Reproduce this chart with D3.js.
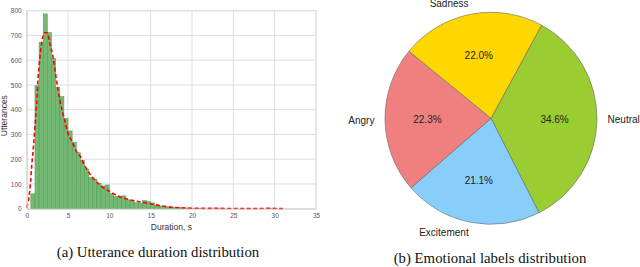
<!DOCTYPE html>
<html>
<head>
<meta charset="utf-8">
<script src="https://cdn.jsdelivr.net/npm/d3@7"></script>
<style>
  html, body { margin: 0; padding: 0; background: #fff; }
  svg { display: block; }
</style>
</head>
<body>
<svg id="chart" width="640" height="267"></svg>
<script>
// ---------- Data: histogram (bin start, seconds; bin width 0.5 s) ----------
const binStarts = [0.0,0.5,1.0,1.5,2.0,2.5,3.0,3.5,4.0,4.5,5.0,5.5,6.0,6.5,7.0,7.5,8.0,8.5,9.0,9.5,
  10.0,10.5,11.0,11.5,12.0,12.5,13.0,13.5,14.0,14.5,15.0,15.5,16.0,16.5,17.0,17.5,18.0,18.5,19.0,19.5,
  20.0,20.5,21.0,21.5,22.0,22.5,23.0,23.5,24.0,24.5,25.0,25.5,26.0,26.5,27.0,27.5,28.0,28.5,29.0,29.5];
const binCounts = [0,60,497,671,787,712,608,490,453,365,314,268,226,195,160,127,119,103,92,96,
  62,50,49,52,36,33,24,23,33,29,23,14,11,8,6,5,3,4,3,2,
  1,1,1,0,1,0,1,0,0,0,0,0,0,0,0,0,0,0,1,1];
const binWidth = 0.5;

// ---------- Data: fitted density curve (red dashed) ----------
const curveX = [0,0.2,0.4,0.6,0.8,1.0,1.2,1.4,1.6,1.8,2.0,2.2,2.5,2.8,3.2,3.6,4.0,4.5,5.0,5.5,6.0,6.5,7.0,7.5,8.0,
  9.0,10.0,11.0,12.0,13.0,14.0,15.0,16.0,17.0,18.0,19.0,20.0,22.0,24.0,26.0,28.0,29.0,29.5,30.0,31.0];
const curveY = [5,30,84,170,245,330,427,540,609,669,700,712,710,669,609,520,440,370,305,270,232,210,175,148,125,
  92,70,52,40,32,26,20,13,8,5,3,2,1.5,1,0.5,0.5,1.5,2,1,0.2];

// ---------- Axis ticks ----------
const xTicks = [0,5,10,15,20,25,30,35];
const yTicks = [0,100,200,300,400,500,600,700,800];

// ---------- Data: pie ----------
const pieLabels = ["Neutral","Excitement","Angry","Sadness"];
const pieValues = [34.6,21.1,22.3,22.0];
const pieColors = ["#9acd32","#87cefa","#f08080","#ffd700"];

// ---------- Captions ----------
const captionA = "(a) Utterance duration distribution";
const captionB = "(b) Emotional labels distribution";

const svg = d3.select("#chart");
const sans = "'Liberation Sans', Arial, Helvetica, sans-serif";
const serif = "'Liberation Serif', 'Times New Roman', Times, serif";

// ================= Histogram =================
const x = d3.scaleLinear().domain([0,35]).range([26.7,316]);
const y = d3.scaleLinear().domain([0,800]).range([208.7,10.7]);

const gH = svg.append("g");

// grid
gH.append("g").selectAll("line.v").data(xTicks).join("line")
  .attr("x1", d => x(d)).attr("x2", d => x(d))
  .attr("y1", y(800)).attr("y2", y(0))
  .attr("stroke", "#dedede").attr("stroke-width", 1);
gH.append("g").selectAll("line.h").data(yTicks).join("line")
  .attr("x1", x(0)).attr("x2", x(35))
  .attr("y1", d => y(d)).attr("y2", d => y(d))
  .attr("stroke", "#dedede").attr("stroke-width", 1);

// bars
const bins = binStarts.map((s,i) => ({s, c: binCounts[i]})).filter(d => d.c > 0);
gH.append("g").selectAll("rect").data(bins).join("rect")
  .attr("x", d => x(d.s))
  .attr("width", d => x(d.s + binWidth) - x(d.s))
  .attr("y", d => y(d.c))
  .attr("height", d => y(0) - y(d.c))
  .attr("fill", "#73b973")
  .attr("stroke", "#4f9a4f")
  .attr("stroke-width", 0.5);

// density curve
const line = d3.line().x((d,i) => x(curveX[i])).y(d => y(d)).curve(d3.curveMonotoneX);
gH.append("path").datum(curveY)
  .attr("d", line)
  .attr("fill", "none")
  .attr("stroke", "#ff0000")
  .attr("stroke-width", 1.6)
  .attr("stroke-dasharray", "4,2.5");

// axes via d3
const xAxis = d3.axisBottom(x).tickValues(xTicks).tickSize(0).tickPadding(5);
const gx = gH.append("g").attr("transform", `translate(0,${y(0)})`).call(xAxis);
gx.select(".domain").attr("stroke", "#cfcfcf");
gx.selectAll("text").attr("font-family", sans).attr("font-size", 6.5).attr("fill", "#555");

const yAxis = d3.axisLeft(y).tickValues(yTicks).tickSize(0).tickPadding(5);
const gy = gH.append("g").attr("transform", `translate(${x(0)},0)`).call(yAxis);
gy.select(".domain").attr("stroke", "#cfcfcf");
gy.selectAll("text").attr("font-family", sans).attr("font-size", 6.5).attr("fill", "#555");

// frame right/top
gH.append("line").attr("x1", x(35)).attr("x2", x(35)).attr("y1", y(800)).attr("y2", y(0)).attr("stroke", "#dedede");
gH.append("line").attr("x1", x(0)).attr("x2", x(35)).attr("y1", y(800)).attr("y2", y(800)).attr("stroke", "#dedede");

// axis titles
gH.append("text").attr("x", (x(0)+x(35))/2).attr("y", 230)
  .attr("text-anchor", "middle").attr("font-family", sans).attr("font-size", 8.5).attr("fill", "#333")
  .text("Duration, s");
gH.append("text").attr("transform", `translate(7,${y(400)+6}) rotate(-90)`)
  .attr("text-anchor", "middle").attr("font-family", sans).attr("font-size", 8.5).attr("fill", "#333")
  .text("Utterances");

// caption a
svg.append("text").attr("x", 158).attr("y", 256.5).attr("text-anchor", "middle")
  .attr("font-family", serif).attr("font-size", 14.8).attr("fill", "#111").text(captionA);

// ================= Pie =================
const cx = 491, cy = 118.3, r = 106;
const startA = 28.5 * Math.PI / 180;
const pie = d3.pie().sort(null).value(d => d).startAngle(startA).endAngle(startA + 2*Math.PI);
const arcs = pie(pieValues);
const arc = d3.arc().innerRadius(0).outerRadius(r);
const gP = svg.append("g").attr("transform", `translate(${cx},${cy})`);

gP.selectAll("path").data(arcs).join("path")
  .attr("d", arc)
  .attr("fill", (d,i) => pieColors[i])
  .attr("stroke", "#666")
  .attr("stroke-width", 0.6);

// percent labels at 0.6 r
gP.selectAll("text.pct").data(arcs).join("text")
  .attr("class", "pct")
  .attr("x", d => Math.sin((d.startAngle+d.endAngle)/2) * r * 0.6)
  .attr("y", d => -Math.cos((d.startAngle+d.endAngle)/2) * r * 0.6)
  .attr("dy", "0.35em")
  .attr("text-anchor", "middle")
  .attr("font-family", sans).attr("font-size", 10).attr("fill", "#222")
  .text(d => d.data.toFixed(1) + "%");

// category labels at 1.1 r
gP.selectAll("text.lbl").data(arcs).join("text")
  .attr("class", "lbl")
  .attr("x", d => Math.sin((d.startAngle+d.endAngle)/2) * r * 1.1)
  .attr("y", d => -Math.cos((d.startAngle+d.endAngle)/2) * r * 1.1)
  .attr("dy", "0.35em")
  .attr("text-anchor", d => Math.sin((d.startAngle+d.endAngle)/2) >= 0 ? "start" : "end")
  .attr("font-family", sans).attr("font-size", 10).attr("fill", "#222")
  .text((d,i) => pieLabels[i]);

// caption b
svg.append("text").attr("x", 490).attr("y", 262.5).attr("text-anchor", "middle")
  .attr("font-family", serif).attr("font-size", 14.8).attr("fill", "#111").text(captionB);
</script>
</body>
</html>
